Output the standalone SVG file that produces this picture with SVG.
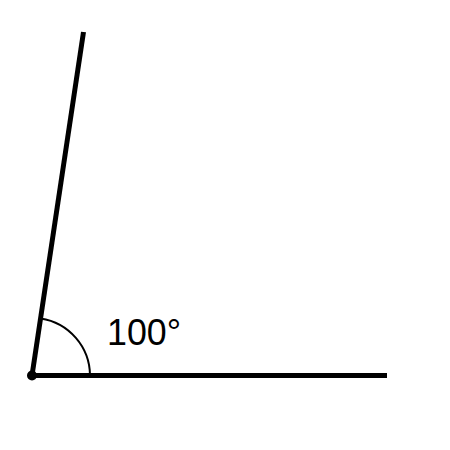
<svg xmlns="http://www.w3.org/2000/svg" width="450" height="450" viewBox="0 0 450 450">
<style>
.ray{stroke:#000;stroke-width:5;fill:none}
.arc{stroke:#000;stroke-width:2;fill:none}
.lbl{font-family:"Liberation Sans",Arial,sans-serif;font-size:36px;fill:#000}
</style>
<rect width="450" height="450" fill="#fff"/>
<g id="rays">
<line class="ray" x1="32" y1="375.5" x2="387" y2="375.5"/>
<line class="ray" x1="32" y1="375.5" x2="83.5" y2="32"/>
</g>
<g id="vertex">
<circle cx="32" cy="375.5" r="5" fill="#000"/>
</g>
<g id="angle">
<path class="arc" d="M 40.6 318.4 A 58 58 0 0 1 90 375.5"/>
<text class="lbl" x="107" y="345" textLength="74" lengthAdjust="spacingAndGlyphs">100°</text>
</g>
</svg>
